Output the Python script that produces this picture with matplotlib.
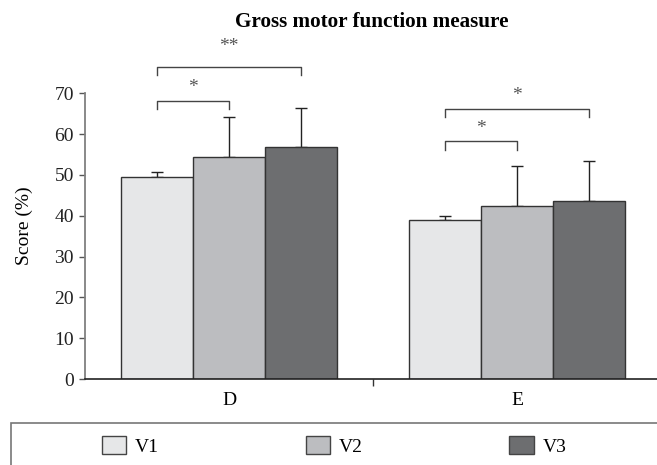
import matplotlib
matplotlib.use("Agg")
import matplotlib.pyplot as plt
from matplotlib.patches import Patch, Rectangle
import numpy as np

plt.rcParams['font.family'] = ['Liberation Serif', 'DejaVu Serif']

groups = ['D', 'E']
series = ['V1', 'V2', 'V3']
colors = ['#e6e7e8', '#bcbdc0', '#6d6e70']
means = {
    'V1': [49.5, 39.0],
    'V2': [54.4, 42.4],
    'V3': [56.9, 43.6],
}
errors = {
    'V1': [1.3, 1.0],
    'V2': [9.9, 9.7],
    'V3': [9.6, 9.8],
}
# significance brackets: (group, from series, to series, height, label, label height)
brackets = [
    (0, 0, 1, 68.2, '*', 71.5),
    (0, 0, 2, 76.4, '**', 81.5),
    (1, 0, 1, 58.2, '*', 61.3),
    (1, 0, 2, 66.1, '*', 69.4),
]

fig = plt.figure(figsize=(6.57, 4.65), dpi=100)
ax = fig.add_axes([85 / 657, 1 - 379 / 465, 572 / 657, 347 / 465])

x = np.arange(len(groups))
width = 0.25
offsets = [-width, 0, width]
for i, s in enumerate(series):
    ax.bar(x + offsets[i], means[s], width, color=colors[i], edgecolor='#333333',
           linewidth=1.0, zorder=2)
    ax.errorbar(x + offsets[i], means[s], yerr=[np.zeros(len(groups)), errors[s]],
                fmt='none', ecolor='#222222', elinewidth=1.0, capsize=4.5,
                capthick=1.0, zorder=1)

drop = 2.0
for g, a, b, h, lab, ly in brackets:
    x0 = g + offsets[a]
    x1 = g + offsets[b]
    ax.plot([x0, x0, x1, x1], [h - drop, h, h, h - drop], color='#444444', lw=1.0,
            clip_on=False)
    ax.text((x0 + x1) / 2, ly, lab, ha='center', va='center', fontsize=14,
            color='#555555')

ax.set_xlim(-0.5, -0.5 + 572 / 288)
ax.set_ylim(0, 85)
ax.set_yticks(np.arange(0, 71, 10))
ax.set_xticks([0.5])
ax.set_xticklabels([''])
ax.set_xticks(x, minor=True)
ax.set_xticklabels(groups, minor=True, fontsize=14)
ax.tick_params(axis='x', which='minor', length=0, pad=9)
ax.tick_params(axis='x', which='major', length=5, width=1.0, direction='out', color='#333333')
ax.tick_params(axis='y', length=4, width=1.0, color='#555555', labelsize=14, pad=4,
               labelcolor='#222222')

for side in ['top', 'right']:
    ax.spines[side].set_visible(False)
ax.spines['left'].set_bounds(0, 70)
ax.spines['left'].set_color('#808080')
ax.spines['left'].set_linewidth(1.3)
ax.spines['bottom'].set_color('#222222')
ax.spines['bottom'].set_linewidth(1.2)

ax.set_ylabel('Score (%)', fontsize=14)
ax.yaxis.set_label_coords(-(85 - 33) / 572, (379 - 226) / 347)

fig.text(372 / 657, 1 - 22 / 465, 'Gross motor function measure', ha='center',
         va='center', fontsize=15.2, fontweight='bold')

# legend box (open to the right and bottom)
fig.patches.append(Rectangle((11 / 657, -0.2), 1.2, 0.2 + (465 - 423) / 465,
                             transform=fig.transFigure, fill=False,
                             edgecolor='#777777', linewidth=1.2))
handles = [Patch(facecolor=c, edgecolor='#444444', linewidth=1.0) for c in colors]
fig.legend(handles, series, ncol=3, loc='center left', frameon=False,
           bbox_to_anchor=(92 / 657, 1 - 446 / 465), fontsize=14, borderpad=0,
           handlelength=1.25, handleheight=1.05, handletextpad=0.45,
           columnspacing=7.55)

fig.savefig('out.png', dpi=100)
